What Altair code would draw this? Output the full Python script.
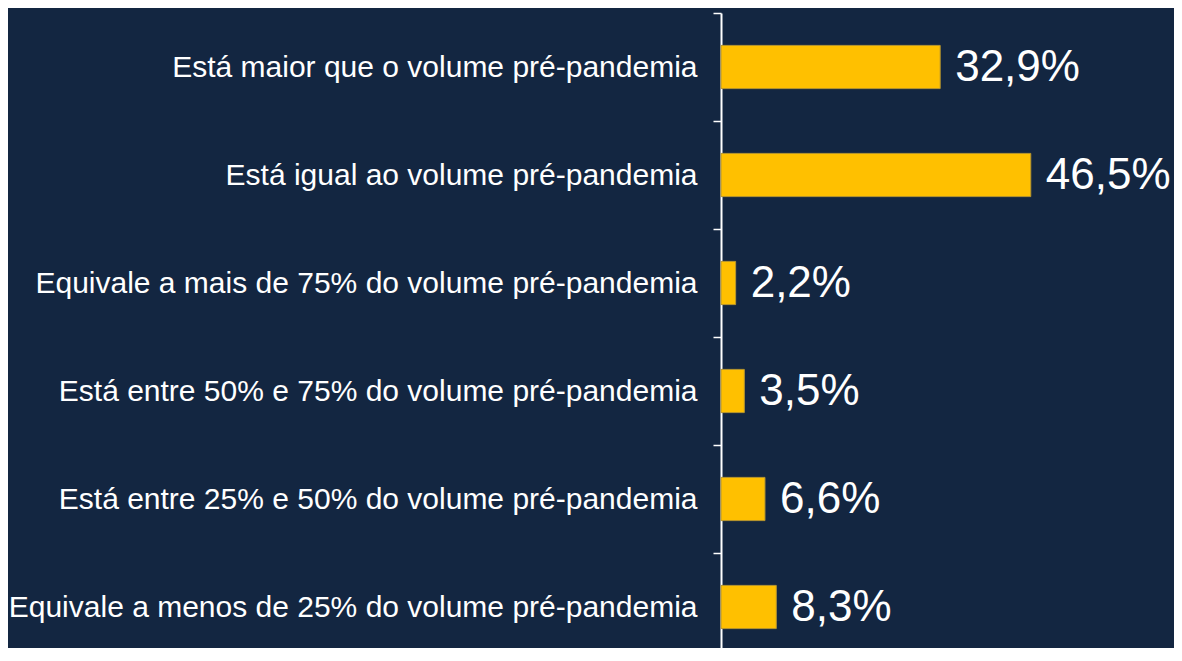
import altair as alt
import pandas as pd

categories = [
    "Está maior que o volume pré-pandemia",
    "Está igual ao volume pré-pandemia",
    "Equivale a mais de 75% do volume pré-pandemia",
    "Está entre 50% e 75% do volume pré-pandemia",
    "Está entre 25% e 50% do volume pré-pandemia",
    "Equivale a menos de 25% do volume pré-pandemia",
]
values = [32.9, 46.5, 2.2, 3.5, 6.6, 8.3]
labels = ["32,9%", "46,5%", "2,2%", "3,5%", "6,6%", "8,3%"]

df = pd.DataFrame({"cat": categories, "val": values, "lab": labels})

BG = "#132641"
FONT = "Liberation Sans"

y = alt.Y(
    "cat:N",
    sort=categories,
    scale=alt.Scale(paddingInner=0, paddingOuter=0, range=[0, 648]),
    axis=alt.Axis(
        title=None,
        labelColor="white",
        labelFont=FONT,
        labelFontSize=30,
        labelPadding=16,
        labelLimit=0,
        tickBand="extent",
        tickColor="white",
        tickSize=8,
        tickWidth=1.5,
        domainColor="white",
        domainWidth=2,
        grid=False,
    ),
)
x = alt.X("val:Q", scale=alt.Scale(domain=[0, 68]), axis=None)

bars = alt.Chart(df).mark_bar(
    color="#FFC000", stroke="#B8962E", strokeWidth=1, height={"band": 0.4}
).encode(x=x, y=y)
text = alt.Chart(df).mark_text(
    align="left", baseline="middle", dx=15, dy=1, fontSize=44, font=FONT, color="white"
).encode(x=x, y=y, text="lab:N")

chart = (
    alt.layer(bars, text)
    .properties(
        width=453,
        height=635,
        background=BG,
        padding={"left": 713, "top": 5, "right": 0, "bottom": 0},
        autosize=alt.AutoSizeParams(type="none"),
    )
    .configure_view(stroke=None)
)

chart.save("out.html", embed_options={"renderer": "svg", "actions": False})
